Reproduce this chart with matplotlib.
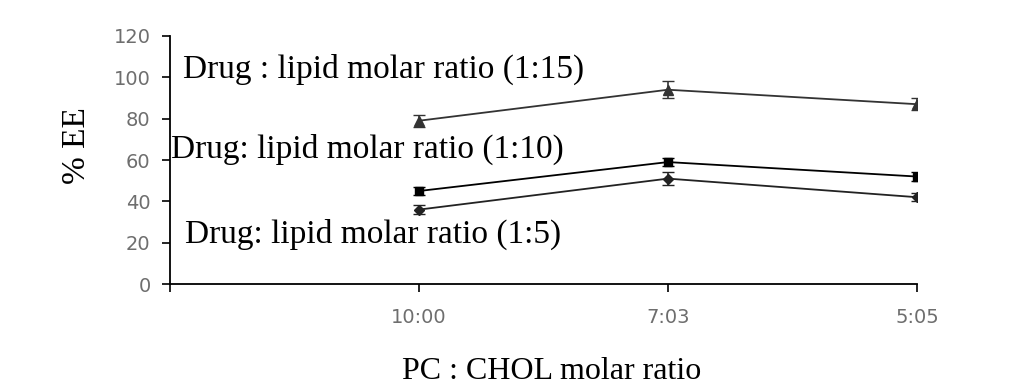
import matplotlib.pyplot as plt
import numpy as np

ratios = ["10:00", "7:03", "5:05"]
ee_15 = [79, 94, 87]
ee_10 = [45, 59, 52]
ee_5 = [36, 51, 42]
err_15 = [3, 4, 3]
err_10 = [2, 2, 2]
err_5 = [2, 3, 2]
labels = ["Drug : lipid molar ratio (1:15)",
          "Drug: lipid molar ratio (1:10)",
          "Drug: lipid molar ratio (1:5)"]

fig = plt.figure(figsize=(10.34, 3.87), dpi=100)
ax = fig.add_axes([0.1644, 0.2661, 0.7224, 0.6409])

x = np.arange(len(ratios))
for y, e, m, ms, c in [(ee_15, err_15, "^", 7, "#333333"), (ee_10, err_10, "s", 6, "black"),
                       (ee_5, err_5, "D", 5, "#222222")]:
    ax.errorbar(x, y, yerr=e, color=c, marker=m, markersize=ms, lw=1.3,
                capsize=4, elinewidth=1.2)

ax.set_xlim(-1, 2)
ax.set_ylim(0, 120)
ax.set_yticks(range(0, 121, 20))
ax.set_xticks([-1] + list(x))
ax.set_xticklabels([""] + ratios)
for s in ["top", "right"]:
    ax.spines[s].set_visible(False)
for s in ["left", "bottom"]:
    ax.spines[s].set_linewidth(1.3)
ax.tick_params(direction="out", length=6, width=1.2, labelsize=14, labelcolor="#6e6e6e",
               labelfontfamily="DejaVu Sans")
ax.tick_params(axis="y", pad=8)
ax.tick_params(axis="x", pad=11)

serif = "Liberation Serif"
ax.text(-0.948, 100, labels[0], fontsize=24, family=serif)
ax.text(-0.995, 61, labels[1], fontsize=24, family=serif)
ax.text(-0.94, 20, labels[2], fontsize=24, family=serif)

ax.set_ylabel("% EE", fontsize=24, family=serif)
ax.yaxis.set_label_coords(-0.104, 0.56)
ax.set_xlabel("PC : CHOL molar ratio", fontsize=23, family=serif)
ax.xaxis.set_label_coords(0.511, -0.295)

fig.savefig("out.png", dpi=100)
